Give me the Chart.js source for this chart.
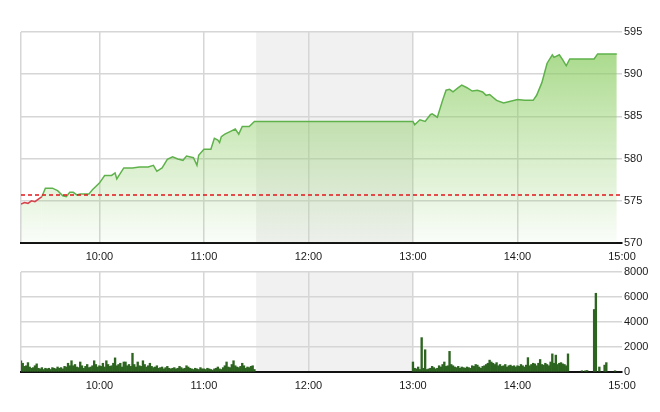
<!DOCTYPE html>
<html>
<head>
<meta charset="utf-8">
<script src="https://cdn.jsdelivr.net/npm/chart.js@4.4.1/dist/chart.umd.min.js"></script>
<style>
    html, body { margin: 0; padding: 0; background: #fff; }
    #wrap { position: relative; width: 660px; height: 412px; }
    #priceBox { position: absolute; left: 0; top: 0; width: 660px; height: 266px; }
    #volBox { position: absolute; left: 0; top: 262px; width: 660px; height: 150px; }
</style>
</head>
<body>
<div id="wrap">
    <div id="priceBox"><canvas id="chart-price"></canvas></div>
    <div id="volBox"><canvas id="chart-volume"></canvas></div>
</div>
<script>
// Intraday index, one session. Times are HH:MM.
const priceTimes = [
    "09:15", "09:17", "09:19", "09:21", "09:23", "09:25", "09:27", "09:29", "09:33", "09:36",
    "09:39", "09:41", "09:43", "09:45", "09:47", "09:49", "09:54", "09:56", "10:00", "10:03",
    "10:07", "10:09", "10:10", "10:14", "10:19", "10:23", "10:28", "10:31", "10:33", "10:36",
    "10:39", "10:42", "10:45", "10:48", "10:50", "10:54", "10:56", "10:57", "11:00", "11:04",
    "11:06", "11:08", "11:09", "11:10", "11:12", "11:15", "11:18", "11:20", "11:22", "11:26",
    "11:29", "11:30", "13:00", "13:01", "13:04", "13:07", "13:10", "13:11", "13:14", "13:17",
    "13:19", "13:21", "13:23", "13:26", "13:28", "13:31", "13:34", "13:37", "13:40", "13:42",
    "13:44", "13:48", "13:52", "13:56", "14:00", "14:04", "14:09", "14:11", "14:14", "14:17",
    "14:20", "14:21", "14:24", "14:26", "14:28", "14:30", "14:44", "14:46", "14:57",
];
const priceValues = [
    574.6, 574.8, 574.7, 575.0, 574.9, 575.2, 575.5, 576.5, 576.5, 576.2,
    575.6, 575.5, 576.0, 576.0, 575.7, 575.8, 575.8, 576.3, 577.1, 578.0,
    578.0, 578.3, 577.6, 578.9, 578.9, 579.0, 579.0, 579.2, 578.5, 578.9,
    579.9, 580.2, 579.95, 579.8, 580.3, 580.1, 579.2, 580.4, 581.1, 581.1,
    582.4, 582.2, 581.9, 582.6, 582.9, 583.2, 583.5, 582.9, 583.8, 583.8,
    584.4, 584.4, 584.4, 584.0, 584.6, 584.4, 585.2, 585.3, 584.9, 586.9,
    588.1, 588.2, 587.9, 588.4, 588.7, 588.4, 588.0, 588.1, 587.9, 587.5,
    587.6, 586.9, 586.6, 586.8, 587.0, 586.9, 586.9, 587.5, 589.0, 591.3,
    592.3, 592.0, 592.3, 591.7, 591.0, 591.8, 591.8, 592.4, 592.4,
];
const refPrice = 575.7;        // previous close, dashed red
const openPhaseEnd = "09:27";  // line drawn red up to here

// Volume per minute, morning from 09:15 and afternoon from 13:00.
const volMorningStart = "09:15";
const volMorning = [
    900, 700, 450, 500, 750, 400, 300, 350, 500, 650, 300, 250, 350, 200, 300,
    250, 300, 200, 350, 300, 250, 400, 300, 350, 250, 450, 400, 700, 500, 900,
    500, 600, 400, 350, 800, 500, 300, 450, 600, 350, 400, 500, 900, 600, 400,
    500, 450, 700, 400, 900, 600, 450, 500, 700, 1130, 500, 600, 700, 400, 800,
    800, 500, 600, 450, 1500, 600, 400, 800, 500, 450, 900, 600, 400, 500, 700,
    450, 350, 400, 500, 300, 350, 400, 250, 350, 450, 300, 250, 300, 350, 250,
    300, 450, 350, 250, 300, 500, 400, 300, 250, 200, 300, 250, 200, 350, 250,
    250, 200, 300, 250, 200, 150, 250, 300, 400, 250, 200, 350, 500, 800, 400,
    350, 600, 900, 500, 400, 350, 450, 700, 500, 300, 400, 350, 450, 500, 200,
];
const volAfternoonStart = "13:00";
const volAfternoon = [
    800, 300, 250, 400, 200, 2750, 300, 1780, 200, 250, 300, 450, 350, 250, 300,
    500, 400, 600, 800, 450, 500, 1650, 600, 500, 400, 350, 450, 300, 400, 350,
    300, 400, 350, 300, 500, 450, 600, 550, 400, 300, 450, 500, 600, 700, 950,
    800, 700, 600, 750, 500, 600, 450, 500, 600, 400, 500, 550, 450, 500, 400,
    500, 450, 600, 500, 400, 550, 1150, 500, 600, 700, 650, 500, 700, 1000, 600,
    550, 700, 600, 500, 800, 1450, 700, 1350, 600, 700, 750, 650, 600, 500, 1450,
];
const volCloseTimes = ["14:37", "14:39", "14:40", "14:44", "14:45", "14:47", "14:50", "14:51", "14:56"];
const volCloseValues = [100, 100, 120, 5000, 6300, 400, 550, 750, 100];

const sessionStart = "09:15";
const sessionEnd = "15:00";
const lunchStart = "11:30";
const lunchEnd = "13:00";
const hourTicks = ["10:00", "11:00", "12:00", "13:00", "14:00", "15:00"];
const priceTicks = [570, 575, 580, 585, 590, 595];
const volumeTicks = [0, 2000, 4000, 6000, 8000];

function toMin(t) {
    const [h, m] = t.split(":").map(Number);
    return h * 60 + m;
}

function fmtTime(v) {
    const h = Math.floor(v / 60);
    const m = v % 60;
    return `${h}:${String(m).padStart(2, "0")}`;
}

const FONT = { family: "'Liberation Sans', Arial, sans-serif", size: 11 };
const GRID = "#d6d6d6";

// Grey band behind the lunch break, drawn before the grid.
const lunchBand = {
    id: "lunchBand",
    beforeDraw(chart) {
        const { ctx, chartArea, scales } = chart;
        const x0 = scales.x.getPixelForValue(toMin(lunchStart));
        const x1 = scales.x.getPixelForValue(toMin(lunchEnd));
        ctx.save();
        ctx.fillStyle = "#f1f1f1";
        ctx.fillRect(x0, chartArea.top, x1 - x0, chartArea.bottom - chartArea.top);
        ctx.restore();
    },
};

function xScale(height) {
    return {
        type: "linear",
        min: toMin(sessionStart),
        max: toMin(sessionEnd),
        offset: false,
        afterBuildTicks(scale) {
            scale.ticks = [toMin(sessionStart), ...hourTicks.map(toMin)].map((v) => ({ value: v }));
        },
        afterFit(scale) {
            scale.height = height;
        },
        ticks: {
            font: FONT,
            color: "#1a1a1a",
            padding: 7,
            maxRotation: 0,
            autoSkip: false,
            callback(v) {
                return v === toMin(sessionStart) ? "" : fmtTime(v);
            },
        },
        grid: {
            offset: false,
            drawTicks: false,
            lineWidth: 1.5,
            color(ctx) {
                return ctx.tick && ctx.tick.value === toMin(sessionEnd) ? "rgba(0,0,0,0)" : GRID;
            },
        },
        border: { display: true, color: "#111", width: 2 },
    };
}

function yScale(ticks) {
    return {
        position: "right",
        min: ticks[0],
        max: ticks[ticks.length - 1],
        afterBuildTicks(scale) {
            scale.ticks = ticks.map((v) => ({ value: v }));
        },
        afterFit(scale) {
            scale.width = 38;
        },
        ticks: {
            font: FONT,
            color: "#1a1a1a",
            padding: 2,
            callback(v) {
                return String(v);
            },
        },
        grid: { drawTicks: false, lineWidth: 1.5, color: GRID },
        border: { display: false },
    };
}

const baseOptions = {
    responsive: true,
    maintainAspectRatio: false,
    animation: false,
    plugins: {
        legend: { display: false },
        tooltip: { enabled: false },
    },
};

const pricePoints = priceTimes.map((t, i) => ({ x: toMin(t), y: priceValues[i] }));

new Chart(document.getElementById("chart-price"), {
    type: "line",
    data: {
        datasets: [
            {
                data: [
                    { x: toMin(sessionStart), y: refPrice },
                    { x: toMin(sessionEnd), y: refPrice },
                ],
                borderColor: "#e3161c",
                borderWidth: 1.5,
                borderDash: [4, 3],
                pointRadius: 0,
                fill: false,
            },
            {
                data: pricePoints,
                borderColor: "#5fb24b",
                borderWidth: 1.5,
                pointRadius: 0,
                tension: 0,
                fill: "start",
                segment: {
                    borderColor(ctx) {
                        return ctx.p1.parsed.x <= toMin(openPhaseEnd) ? "#d9414a" : undefined;
                    },
                },
                backgroundColor(ctx) {
                    const { chart } = ctx;
                    const area = chart.chartArea;
                    if (!area) {
                        return "rgba(140,205,100,0.4)";
                    }
                    const g = chart.ctx.createLinearGradient(0, area.top, 0, area.bottom);
                    g.addColorStop(0, "rgba(140,205,100,0.82)");
                    g.addColorStop(0.42, "rgba(140,205,100,0.47)");
                    g.addColorStop(1, "rgba(140,205,100,0.04)");
                    return g;
                },
            },
        ],
    },
    options: {
        ...baseOptions,
        layout: { padding: { left: 21, top: 32, right: 0, bottom: 0 } },
        scales: { x: xScale(23), y: yScale(priceTicks) },
    },
    plugins: [lunchBand],
});

const volPoints = [
    ...volMorning.map((v, i) => ({ x: toMin(volMorningStart) + i, y: v })),
    ...volAfternoon.map((v, i) => ({ x: toMin(volAfternoonStart) + i, y: v })),
    ...volCloseTimes.map((t, i) => ({ x: toMin(t), y: volCloseValues[i] })),
];

new Chart(document.getElementById("chart-volume"), {
    type: "bar",
    data: {
        datasets: [
            {
                data: volPoints,
                backgroundColor: "#2c6420",
                borderWidth: 0,
                barThickness: 1.7,
            },
        ],
    },
    options: {
        ...baseOptions,
        layout: { padding: { left: 21, top: 10, right: 0, bottom: 0 } },
        scales: { x: xScale(40), y: yScale(volumeTicks) },
    },
    plugins: [lunchBand],
});
</script>
</body>
</html>
